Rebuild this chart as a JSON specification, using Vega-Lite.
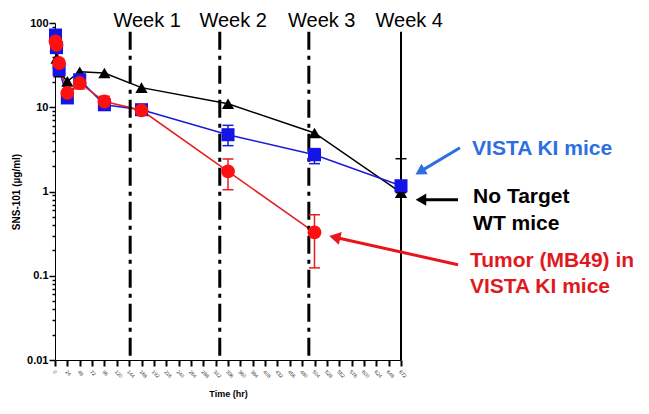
{
  "$schema": "https://vega.github.io/schema/vega-lite/v6.json",
  "autosize": "none",
  "width": 346,
  "height": 337,
  "padding": {"left": 55, "top": 23, "right": 248, "bottom": 54},
  "background": "white",
  "config": {
    "font": "Liberation Sans",
    "view": {"stroke": null},
    "legend": {"disable": true}
  },
  "datasets": {
    "pk": [
      {"g": "WT", "t": 1, "v": 52}, {"g": "WT", "t": 3, "v": 38}, {"g": "WT", "t": 8, "v": 26},
      {"g": "WT", "t": 24, "v": 20.3}, {"g": "WT", "t": 48, "v": 26.4}, {"g": "WT", "t": 96, "v": 25.5},
      {"g": "WT", "t": 168, "v": 17.1}, {"g": "WT", "t": 336, "v": 11.0}, {"g": "WT", "t": 504, "v": 4.95},
      {"g": "WT", "t": 672, "v": 0.97},
      {"g": "VISTA", "t": 1, "v": 72}, {"g": "VISTA", "t": 3, "v": 51}, {"g": "VISTA", "t": 8, "v": 27.9},
      {"g": "VISTA", "t": 24, "v": 12.9}, {"g": "VISTA", "t": 48, "v": 21.2}, {"g": "VISTA", "t": 96, "v": 10.7},
      {"g": "VISTA", "t": 168, "v": 9.35}, {"g": "VISTA", "t": 336, "v": 4.72}, {"g": "VISTA", "t": 504, "v": 2.73},
      {"g": "VISTA", "t": 672, "v": 1.17},
      {"g": "Tumor", "t": 1, "v": 60.5}, {"g": "Tumor", "t": 3, "v": 55}, {"g": "Tumor", "t": 8, "v": 33.5},
      {"g": "Tumor", "t": 24, "v": 14.8}, {"g": "Tumor", "t": 48, "v": 19.4}, {"g": "Tumor", "t": 96, "v": 11.7},
      {"g": "Tumor", "t": 168, "v": 9.2}, {"g": "Tumor", "t": 336, "v": 1.73}, {"g": "Tumor", "t": 504, "v": 0.327}
    ],
    "err": [
      {"g": "WT", "t": 672, "lo": 0.97, "hi": 2.45},
      {"g": "VISTA", "t": 336, "lo": 3.5, "hi": 6.1},
      {"g": "VISTA", "t": 504, "lo": 2.14, "hi": 3.23},
      {"g": "Tumor", "t": 48, "lo": 16.5, "hi": 22},
      {"g": "Tumor", "t": 96, "lo": 9.8, "hi": 13.5},
      {"g": "Tumor", "t": 336, "lo": 1.05, "hi": 2.43},
      {"g": "Tumor", "t": 504, "lo": 0.124, "hi": 0.53}
    ],
    "weekLabels": [
      {"label": "Week 1", "x": 179, "y": 90.4},
      {"label": "Week 2", "x": 346, "y": 90.4},
      {"label": "Week 3", "x": 518, "y": 90.4},
      {"label": "Week 4", "x": 688, "y": 90.4}
    ],
    "arrows": [
      {"g": "VISTA", "x": 786.6, "y": 3.31, "x2": 709, "y2": 1.72},
      {"g": "WT", "x": 782.7, "y": 0.8, "x2": 710.8, "y2": 0.8},
      {"g": "Tumor", "x": 782.7, "y": 0.135, "x2": 543.4, "y2": 0.287}
    ],
    "notes": [
      {"g": "VISTA", "label": "VISTA KI mice", "x": 810, "y": 2.73},
      {"g": "WT", "label": "No Target", "x": 812, "y": 0.736},
      {"g": "WT", "label": "WT mice", "x": 812, "y": 0.352},
      {"g": "Tumor", "label": "Tumor (MB49) in", "x": 806, "y": 0.128},
      {"g": "Tumor", "label": "VISTA KI mice", "x": 806, "y": 0.063}
    ]
  },
  "resolve": {"scale": {"color": "independent"}, "axis": {"x": "independent", "y": "independent"}},
  "layer": [
    {
      "data": {"name": "pk"},
      "mark": {"type": "line", "strokeWidth": 1.5},
      "encoding": {
        "x": {"field": "t", "type": "quantitative", "scale": {"domain": [0, 672], "nice": false, "zero": false},
          "axis": {"values": [0,24,48,72,96,120,144,168,192,216,240,264,288,312,336,360,384,408,432,456,480,504,528,552,576,600,624,648,672],
            "title": "Time (hr)", "titleFontSize": 9, "titleFontWeight": "bold", "titleColor": "black", "titlePadding": 11,
            "labelFontSize": 5, "labelAngle": 45, "labelColor": "#333", "labelPadding": 3, "labelOverlap": false,
            "ticks": true, "tickSize": 6, "tickColor": "black", "tickWidth": 2, "domainColor": "black",
            "grid": true, "gridOpacity": 0}},
        "y": {"field": "v", "type": "quantitative", "scale": {"type": "log", "domain": [0.01, 100], "nice": false},
          "axis": {"values": [0.01,0.02,0.03,0.04,0.05,0.06,0.07,0.08,0.09,0.1,0.2,0.3,0.4,0.5,0.6,0.7,0.8,0.9,1,2,3,4,5,6,7,8,9,10,20,30,40,50,60,70,80,90,100],
            "labelExpr": "abs(log(datum.value)/LN10 - round(log(datum.value)/LN10)) < 1e-6 ? format(datum.value, '~g') : ''",
            "title": "SNS-101 (µg/ml)", "titleFontSize": 10, "titleFontWeight": "bold", "titleColor": "black", "titlePadding": 5,
            "labelFontSize": 11, "labelFontWeight": "bold", "labelColor": "black", "labelPadding": 1, "labelOverlap": false,
            "ticks": true, "tickColor": "black", "tickWidth": 1.5, "domainColor": "black",
            "tickSize": {"condition": {"test": "abs(log(datum.value)/LN10 - round(log(datum.value)/LN10)) < 1e-6", "value": 6}, "value": 3},
            "grid": true, "gridOpacity": 0}},
        "color": {"field": "g", "type": "nominal", "scale": {"domain": ["WT", "VISTA", "Tumor"], "range": ["#000000", "#1a1ad8", "#e81c1c"]}, "legend": null},
        "order": {"field": "t"}
      }
    },
    {
      "data": {"values": [{"x": 146}, {"x": 320}, {"x": 493}]},
      "mark": {"type": "rule", "color": "black", "strokeWidth": 3, "strokeDash": [18, 6, 4, 6]},
      "encoding": {
        "x": {"field": "x", "type": "quantitative", "axis": null, "scale": {"domain": [0, 672], "nice": false, "zero": false}},
        "y": {"datum": 78.9, "type": "quantitative", "axis": null, "scale": {"type": "log", "domain": [0.01, 100], "nice": false}},
        "y2": {"datum": 0.01}
      }
    },
    {
      "data": {"values": [{"x": 672}]},
      "mark": {"type": "rule", "color": "black", "strokeWidth": 2},
      "encoding": {
        "x": {"field": "x", "type": "quantitative", "axis": null, "scale": {"domain": [0, 672], "nice": false, "zero": false}},
        "y": {"datum": 78.9, "type": "quantitative", "axis": null, "scale": {"type": "log", "domain": [0.01, 100], "nice": false}},
        "y2": {"datum": 0.01}
      }
    },
    {
      "data": {"name": "weekLabels"},
      "mark": {"type": "text", "fontSize": 20, "color": "black", "align": "center", "baseline": "alphabetic"},
      "encoding": {
        "x": {"field": "x", "type": "quantitative", "axis": null, "scale": {"domain": [0, 672], "nice": false, "zero": false}},
        "y": {"field": "y", "type": "quantitative", "axis": null, "scale": {"type": "log", "domain": [0.01, 100], "nice": false}},
        "text": {"field": "label"}
      }
    },
    {
      "data": {"name": "err"},
      "mark": {"type": "rule", "strokeWidth": 1.5},
      "encoding": {
        "x": {"field": "t", "type": "quantitative", "axis": null, "scale": {"domain": [0, 672], "nice": false, "zero": false}},
        "y": {"field": "lo", "type": "quantitative", "axis": null, "scale": {"type": "log", "domain": [0.01, 100], "nice": false}},
        "y2": {"field": "hi"},
        "color": {"field": "g", "type": "nominal", "scale": {"domain": ["WT", "VISTA", "Tumor"], "range": ["#000000", "#1a1ad8", "#e81c1c"]}, "legend": null}
      }
    },
    {
      "data": {"name": "err"},
      "mark": {"type": "point", "shape": "M-1,0L1,0", "size": 121, "filled": false, "strokeWidth": 1.5, "opacity": 1},
      "encoding": {
        "x": {"field": "t", "type": "quantitative", "axis": null, "scale": {"domain": [0, 672], "nice": false, "zero": false}},
        "y": {"field": "hi", "type": "quantitative", "axis": null, "scale": {"type": "log", "domain": [0.01, 100], "nice": false}},
        "color": {"field": "g", "type": "nominal", "scale": {"domain": ["WT", "VISTA", "Tumor"], "range": ["#000000", "#1a1ad8", "#e81c1c"]}, "legend": null}
      }
    },
    {
      "data": {"name": "err"},
      "mark": {"type": "point", "shape": "M-1,0L1,0", "size": 121, "filled": false, "strokeWidth": 1.5, "opacity": 1},
      "encoding": {
        "x": {"field": "t", "type": "quantitative", "axis": null, "scale": {"domain": [0, 672], "nice": false, "zero": false}},
        "y": {"field": "lo", "type": "quantitative", "axis": null, "scale": {"type": "log", "domain": [0.01, 100], "nice": false}},
        "color": {"field": "g", "type": "nominal", "scale": {"domain": ["WT", "VISTA", "Tumor"], "range": ["#000000", "#1a1ad8", "#e81c1c"]}, "legend": null}
      }
    },
    {
      "data": {"name": "pk"},
      "mark": {"type": "point", "filled": true, "opacity": 1, "strokeWidth": 0},
      "encoding": {
        "x": {"field": "t", "type": "quantitative", "axis": null, "scale": {"domain": [0, 672], "nice": false, "zero": false}},
        "y": {"field": "v", "type": "quantitative", "axis": null, "scale": {"type": "log", "domain": [0.01, 100], "nice": false}},
        "color": {"field": "g", "type": "nominal", "scale": {"domain": ["WT", "VISTA", "Tumor"], "range": ["#000000", "#1414e6", "#ff1010"]}, "legend": null},
        "shape": {"field": "g", "type": "nominal", "scale": {"domain": ["WT", "VISTA", "Tumor"], "range": ["triangle-up", "square", "circle"]}, "legend": null},
        "size": {"field": "g", "type": "nominal", "scale": {"domain": ["WT", "VISTA", "Tumor"], "range": [150, 190, 175]}, "legend": null}
      }
    },
    {
      "data": {"name": "arrows"},
      "mark": {"type": "rule", "strokeWidth": 3},
      "encoding": {
        "x": {"field": "x", "type": "quantitative", "axis": null, "scale": {"domain": [0, 672], "nice": false, "zero": false}},
        "y": {"field": "y", "type": "quantitative", "axis": null, "scale": {"type": "log", "domain": [0.01, 100], "nice": false}},
        "x2": {"field": "x2"},
        "y2": {"field": "y2"},
        "color": {"field": "g", "type": "nominal", "scale": {"domain": ["WT", "VISTA", "Tumor"], "range": ["#000000", "#2d6fe0", "#e8161b"]}, "legend": null}
      }
    },
    {
      "data": {"name": "arrows"},
      "transform": [{"filter": "datum.g === 'VISTA'"}],
      "mark": {"type": "point", "shape": "triangle-up", "filled": true, "opacity": 1, "size": 150, "angle": 239, "color": "#2d6fe0"},
      "encoding": {
        "x": {"field": "x2", "type": "quantitative", "axis": null, "scale": {"domain": [0, 672], "nice": false, "zero": false}},
        "y": {"field": "y2", "type": "quantitative", "axis": null, "scale": {"type": "log", "domain": [0.01, 100], "nice": false}}
      }
    },
    {
      "data": {"name": "arrows"},
      "transform": [{"filter": "datum.g === 'WT'"}],
      "mark": {"type": "point", "shape": "triangle-up", "filled": true, "opacity": 1, "size": 150, "angle": 270, "color": "#000000"},
      "encoding": {
        "x": {"field": "x2", "type": "quantitative", "axis": null, "scale": {"domain": [0, 672], "nice": false, "zero": false}},
        "y": {"field": "y2", "type": "quantitative", "axis": null, "scale": {"type": "log", "domain": [0.01, 100], "nice": false}}
      }
    },
    {
      "data": {"name": "arrows"},
      "transform": [{"filter": "datum.g === 'Tumor'"}],
      "mark": {"type": "point", "shape": "triangle-up", "filled": true, "opacity": 1, "size": 170, "angle": 283, "color": "#e8161b"},
      "encoding": {
        "x": {"field": "x2", "type": "quantitative", "axis": null, "scale": {"domain": [0, 672], "nice": false, "zero": false}},
        "y": {"field": "y2", "type": "quantitative", "axis": null, "scale": {"type": "log", "domain": [0.01, 100], "nice": false}}
      }
    },
    {
      "data": {"name": "notes"},
      "mark": {"type": "text", "fontSize": 21, "fontWeight": "bold", "align": "left", "baseline": "alphabetic"},
      "encoding": {
        "x": {"field": "x", "type": "quantitative", "axis": null, "scale": {"domain": [0, 672], "nice": false, "zero": false}},
        "y": {"field": "y", "type": "quantitative", "axis": null, "scale": {"type": "log", "domain": [0.01, 100], "nice": false}},
        "text": {"field": "label"},
        "color": {"field": "g", "type": "nominal", "scale": {"domain": ["WT", "VISTA", "Tumor"], "range": ["#000000", "#2d6fe0", "#e0191e"]}, "legend": null}
      }
    }
  ]
}
